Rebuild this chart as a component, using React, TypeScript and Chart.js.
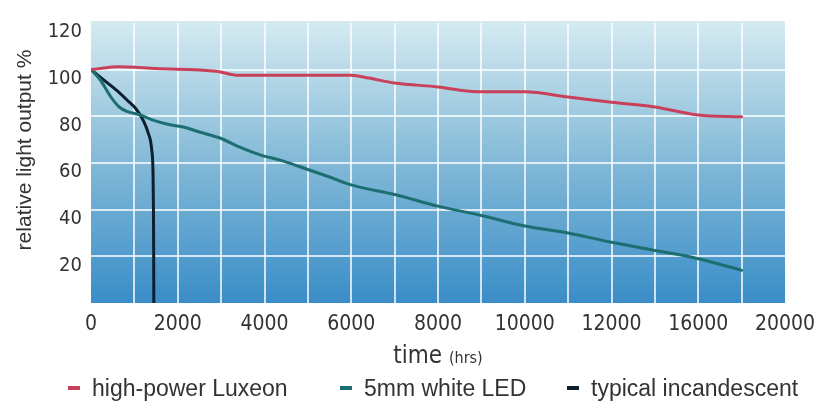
import { useEffect, useRef } from "react";
import { Chart, registerables } from "chart.js";
Chart.register(...registerables);

// ---- data (x in axis position units: one grid step = 1000) ----
const SERIES_NAMES = ["high-power Luxeon", "5mm white LED", "typical incandescent"];
const SERIES_COLORS = ["#c8405a", "#1c6e70", "#0f1f2e"];
const X_TICK_LABELS = ["0", "2000", "4000", "6000", "8000", "10000", "12000", "16000", "20000"];
const Y_TICK_VALUES = [20, 40, 60, 80, 100, 120];
const X_TITLE_MAIN = "time";
const X_TITLE_UNIT = "(hrs)";
const Y_TITLE = "relative light output %";

const luxeonX = [0, 250, 600, 1500, 2900, 3400, 6000, 6400, 7000, 8000, 8900, 10000, 11000, 12000, 13000, 14000, 15000];
const luxeonY = [100, 100.6, 101.3, 100.5, 99.3, 97.6, 97.6, 96.4, 94.3, 92.6, 90.5, 90.5, 88.3, 86, 84, 80.6, 79.8];

const ledX = [0, 200, 450, 650, 850, 1130, 1430, 1750, 2100, 2500, 3000, 3400, 3900, 4400, 4800, 5500, 6000, 7000, 8000, 9000, 10000, 11000, 12000, 13000, 14000, 15000];
const ledY = [100, 96, 88.5, 84, 82, 80.6, 78.4, 76.7, 75.5, 73.3, 70.5, 67, 63.5, 61, 58.5, 54, 50.6, 46.5, 41.5, 37.5, 33, 30, 26, 22.5, 19, 14];

const incX = [0, 300, 600, 830, 1060, 1200, 1320, 1400, 1430, 1440, 1445, 1448];
const incY = [100, 95.5, 91, 87, 82.7, 78.4, 72.8, 65.6, 55.7, 40, 20, 0];

const SERIES_X = [luxeonX, ledX, incX];
const SERIES_Y = [luxeonY, ledY, incY];

const TEXT = "#333333";
const TICK_FONT = "'DejaVu Sans Condensed', 'Liberation Sans', sans-serif";
const MAIN_FONT = "'Liberation Sans', Arial, sans-serif";

const LEGEND_X = [68, 340, 567];

const bgPlugin = {
  id: "bgGradient",
  beforeDraw(chart: any) {
    const { ctx, chartArea: a } = chart;
    const g = ctx.createLinearGradient(0, a.top, 0, a.bottom);
    g.addColorStop(0, "#d4eaf1");
    g.addColorStop(0.5, "#82b9d7");
    g.addColorStop(1, "#3a8dc8");
    ctx.save();
    ctx.fillStyle = g;
    ctx.fillRect(a.left, a.top - 2, a.right - a.left, a.bottom - a.top + 2);
    ctx.restore();
  },
};

const textPlugin = {
  id: "texts",
  afterDraw(chart: any) {
    const { ctx, chartArea: a } = chart;
    ctx.save();
    ctx.fillStyle = TEXT;
    // y title
    ctx.save();
    ctx.translate(25, (a.top + a.bottom) / 2 - 13);
    ctx.rotate(-Math.PI / 2);
    ctx.textAlign = "center";
    ctx.textBaseline = "middle";
    ctx.font = `21px ${MAIN_FONT}`;
    ctx.fillText(Y_TITLE, 0, 0);
    ctx.restore();
    // x title
    ctx.textBaseline = "alphabetic";
    ctx.textAlign = "left";
    ctx.font = `24px ${TICK_FONT}`;
    const w1 = ctx.measureText(X_TITLE_MAIN + " ").width;
    ctx.font = `16px ${TICK_FONT}`;
    const w2 = ctx.measureText(X_TITLE_UNIT).width;
    const cx = (a.left + a.right) / 2;
    const sx = cx - (w1 + w2) / 2;
    const by = a.bottom + 60;
    ctx.font = `24px ${TICK_FONT}`;
    ctx.fillText(X_TITLE_MAIN, sx, by);
    ctx.font = `16px ${TICK_FONT}`;
    ctx.fillText(X_TITLE_UNIT, sx + w1, by);
    // legend
    ctx.font = `23px ${MAIN_FONT}`;
    SERIES_NAMES.forEach((name, i) => {
      const x0 = LEGEND_X[i];
      ctx.strokeStyle = SERIES_COLORS[i];
      ctx.lineWidth = 4;
      ctx.beginPath();
      ctx.moveTo(x0, a.bottom + 85);
      ctx.lineTo(x0 + 12, a.bottom + 85);
      ctx.stroke();
      ctx.fillStyle = TEXT;
      ctx.fillText(name, x0 + 24, a.bottom + 93);
    });
    ctx.restore();
  },
};

export default function App() {
  const ref = useRef<HTMLCanvasElement | null>(null);
  useEffect(() => {
    document.body.style.margin = "0";
    const canvas = ref.current!;
    const chart = new Chart(canvas, {
      type: "line",
      data: {
        datasets: SERIES_NAMES.map((name, i) => ({
          label: name,
          data: SERIES_X[i].map((x, j) => ({ x, y: SERIES_Y[i][j] })),
          borderColor: SERIES_COLORS[i],
          borderWidth: 3,
          pointRadius: 0,
          fill: false,
          cubicInterpolationMode: "monotone" as const,
          borderJoinStyle: "round" as const,
          borderCapStyle: "round" as const,
        })),
      },
      options: {
        animation: false,
        responsive: false,
        devicePixelRatio: 1,
        layout: { padding: { top: 23, right: 30, left: 0, bottom: 0 } },
        plugins: { legend: { display: false }, tooltip: { enabled: false } },
        scales: {
          x: {
            type: "linear",
            min: 0,
            max: 16000,
            border: { display: false },
            grid: {
              drawTicks: false,
              lineWidth: 2,
              color: (c: any) =>
                c.tick && (c.tick.value === 0 || c.tick.value === 16000) ? "rgba(0,0,0,0)" : "rgba(255,255,255,0.75)",
            },
            ticks: {
              stepSize: 1000,
              autoSkip: false,
              maxRotation: 0,
              padding: 9,
              color: TEXT,
              font: { family: TICK_FONT, size: 21 },
              callback: (v: any) => {
                const n = Number(v);
                if (n % 2000 !== 0) return "";
                return X_TICK_LABELS[n / 2000] ?? "";
              },
            },
            afterFit: (s: any) => {
              s.height = 98;
              s.paddingRight = 0;
              s.paddingLeft = 0;
            },
          },
          y: {
            min: 0,
            max: 120,
            border: { display: false },
            grid: {
              drawTicks: false,
              lineWidth: 2,
              color: (c: any) =>
                c.tick && Y_TICK_VALUES.slice(0, -1).includes(c.tick.value) ? "rgba(255,255,255,0.75)" : "rgba(0,0,0,0)",
            },
            ticks: {
              stepSize: 20,
              padding: 9,
              labelOffset: 9,
              color: TEXT,
              font: { family: TICK_FONT, size: 20 },
              callback: (v: any) => (Y_TICK_VALUES.includes(Number(v)) ? String(v) : ""),
            },
            afterFit: (s: any) => {
              s.width = 91;
            },
          },
        },
      },
      plugins: [bgPlugin, textPlugin],
    });
    return () => chart.destroy();
  }, []);
  return <canvas ref={ref} width={815} height={401} style={{ display: "block" }} />;
}
